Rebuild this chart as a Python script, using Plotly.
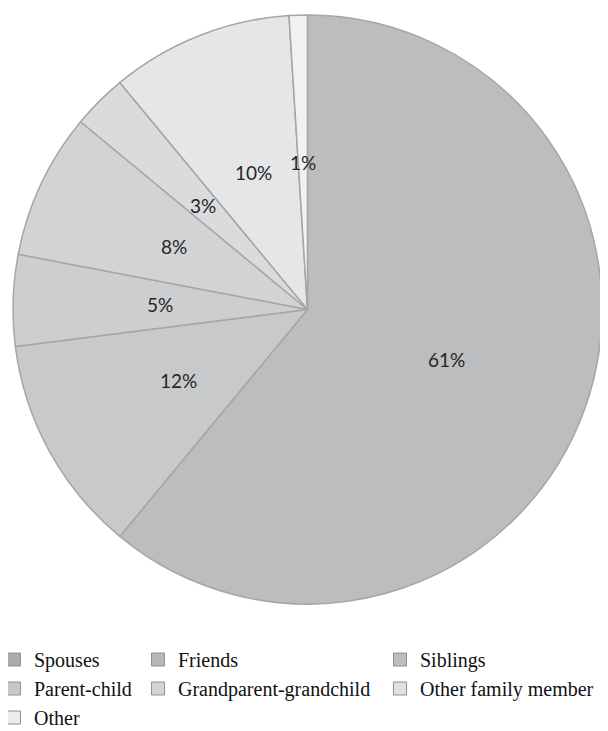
import math
import plotly.graph_objects as go

categories = ["Spouses", "Friends", "Siblings", "Parent-child",
              "Grandparent-grandchild", "Other family member", "Other"]
values = [61, 12, 5, 8, 3, 10, 1]
colors = ["#bcbdbf", "#c8c9cb", "#cdced0", "#d2d3d5", "#dadbdd", "#e5e6e8", "#f0f1f2"]
marker_colors = ["#a9aaac", "#b6b7b9", "#bbbcbe", "#c6c7c9", "#d3d4d6", "#e0e1e3", "#ececed"]
legend_columns = [["Spouses", "Parent-child", "Other"],
                  ["Friends", "Grandparent-grandchild"],
                  ["Siblings", "Other family member"]]

# the page body adds an 8px offset, so the figure itself is 8px smaller
W, H = 600, 723
dom_x = [5 / W, 594 / W]
dom_y = [(H - 596) / H, (H - 7) / H]

fig = go.Figure()
fig.add_trace(go.Pie(
    labels=categories, values=values, sort=False, direction="clockwise", rotation=0,
    marker=dict(colors=colors, line=dict(color="#a5a6a8", width=1.5)),
    textinfo="none",
    domain=dict(x=dom_x, y=dom_y),
    showlegend=False, hoverinfo="label+percent",
))

# percentage labels placed at half the radius along each slice's mid-angle
cx = (dom_x[0] + dom_x[1]) / 2 * W
cy = (dom_y[0] + dom_y[1]) / 2 * H
r = min((dom_x[1] - dom_x[0]) * W, (dom_y[1] - dom_y[0]) * H) / 2
total = sum(values)
cum = 0
for v in values:
    mid = (cum + v / 2) / total * 2 * math.pi
    cum += v
    px = cx + 0.5 * r * math.sin(mid)
    py = cy + 0.5 * r * math.cos(mid)
    fig.add_annotation(x=px / W, y=py / H, xref="paper", yref="paper",
                       xanchor="center", yanchor="middle",
                       text=f"{round(v / total * 100)}%", showarrow=False,
                       font=dict(family="Lato", size=19, color="#262626"))

legend_names = ["legend", "legend2", "legend3"]
for li, col in enumerate(legend_columns):
    for name in col:
        i = categories.index(name)
        fig.add_trace(go.Scatter(
            x=[None], y=[None], mode="markers", name=name, legend=legend_names[li],
            marker=dict(symbol="square", size=13, color=marker_colors[i],
                        line=dict(color="#8f9092", width=1)),
        ))

leg_common = dict(orientation="v", yanchor="top", xanchor="left", y=(H - 632) / H,
                  font=dict(family="Liberation Serif", size=20, color="#111111"),
                  bgcolor="rgba(0,0,0,0)", tracegroupgap=0, itemwidth=30)
fig.update_layout(
    width=W, height=H, margin=dict(l=0, r=0, t=0, b=0, autoexpand=False),
    paper_bgcolor="white", plot_bgcolor="white",
    xaxis=dict(visible=False), yaxis=dict(visible=False),
    legend=dict(x=-14 / W, **leg_common),
    legend2=dict(x=130 / W, **leg_common),
    legend3=dict(x=372 / W, **leg_common),
)
fig.write_html("out.html")
